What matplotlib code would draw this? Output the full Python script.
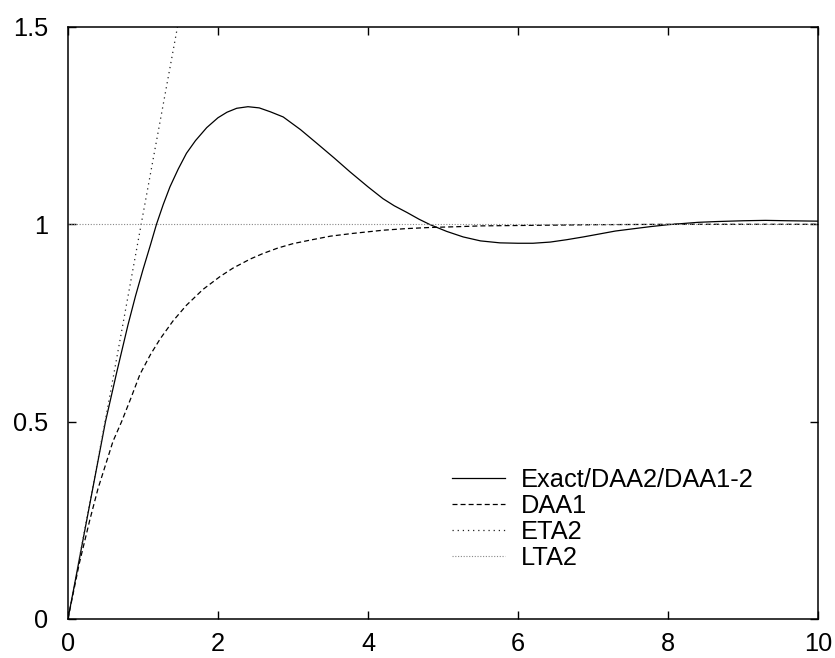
import matplotlib
matplotlib.use("Agg")
import matplotlib.pyplot as plt

plt.rcParams['font.family'] = ['Liberation Sans', 'DejaVu Sans']
plt.rcParams['lines.scale_dashes'] = False

# values
exact_x = [0, 0.25, 0.5, 0.65, 0.8, 0.9, 1.0, 1.1, 1.18, 1.27, 1.36, 1.47, 1.58,
           1.7, 1.85, 2.0, 2.12, 2.25, 2.4, 2.55, 2.7, 2.87, 3.1, 3.32, 3.55,
           3.76, 4.0, 4.2, 4.35, 4.52, 4.68, 4.83, 5.05, 5.27, 5.5, 5.76, 6.0,
           6.2, 6.43, 6.65, 6.87, 7.1, 7.3, 7.55, 7.76, 8.0, 8.2, 8.4, 8.65,
           9.0, 9.3, 9.6, 10]
exact_y = [0, 0.25, 0.50, 0.625, 0.745, 0.818, 0.885, 0.948, 1.0, 1.05, 1.095,
           1.14, 1.18, 1.212, 1.245, 1.27, 1.284, 1.294, 1.298, 1.295, 1.285,
           1.272, 1.24, 1.205, 1.168, 1.133, 1.095, 1.065, 1.047, 1.03, 1.013,
           0.999, 0.982, 0.968, 0.958, 0.953, 0.952, 0.952, 0.955, 0.961, 0.968,
           0.976, 0.983, 0.989, 0.994, 0.999, 1.002, 1.005, 1.007, 1.009, 1.01,
           1.009, 1.008]

daa1_x = [0, 0.15, 0.29, 0.4, 0.5, 0.6, 0.715, 0.84, 0.96, 1.1, 1.23, 1.4,
          1.58, 1.8, 2.03, 2.2, 2.43, 2.6, 2.8, 3.0, 3.23, 3.5, 3.8, 4.2, 4.5,
          4.83, 5.2, 5.5, 6, 6.5, 7, 8, 9, 10]
daa1_y = [0, 0.14, 0.25, 0.33, 0.39, 0.45, 0.50, 0.56, 0.62, 0.67, 0.71, 0.755,
          0.795, 0.835, 0.868, 0.889, 0.912, 0.926, 0.94, 0.951, 0.96, 0.97,
          0.977, 0.985, 0.989, 0.992, 0.994, 0.996, 0.997, 0.998, 0.999, 1.0,
          1.0, 1.0]

eta2_x = [0, 0.5, 1.0, 1.46]
eta2_y = [0, 0.505, 1.025, 1.5]

lta2_x = [0, 10]
lta2_y = [1, 1]

labels = ['Exact/DAA2/DAA1-2', 'DAA1', 'ETA2', 'LTA2']

fig = plt.figure(figsize=(8.35, 6.58), dpi=100)
ax = fig.add_axes([0.0814, 0.0593, 0.8982, 0.8997])

ax.plot(exact_x, exact_y, color='black', lw=0.9, label=labels[0])
ax.plot(daa1_x, daa1_y, color='black', lw=0.9, dashes=(3.6, 2.2), label=labels[1])
ax.plot(eta2_x, eta2_y, color='#222222', lw=0.9, dashes=(0.9, 2.8), label=labels[2])
ax.plot(lta2_x, lta2_y, color='#888888', lw=0.8, dashes=(0.8, 1.2), label=labels[3])

ax.set_xlim(0, 10)
ax.set_ylim(0, 1.5)
ax.set_xticks([0, 2, 4, 6, 8, 10])
ax.set_xticklabels(['0', '2', '4', '6', '8', '10'])
ax.set_yticks([0, 0.5, 1, 1.5])
ax.set_yticklabels(['0', '0.5', '1', '1.5'])
ax.tick_params(direction='in', length=5.5, width=1.0, labelsize=18.3,
               top=True, right=True)
ax.tick_params(axis='x', pad=9.5)
ax.tick_params(axis='y', pad=14)
for s in ax.spines.values():
    s.set_linewidth(1.1)

ax.legend(loc='lower left', bbox_to_anchor=(0.512, 0.083), frameon=False,
          fontsize=18.3, borderpad=0, borderaxespad=0, handlelength=2.1,
          handletextpad=0.6, labelspacing=0.08)

fig.savefig('out.png', dpi=100)
